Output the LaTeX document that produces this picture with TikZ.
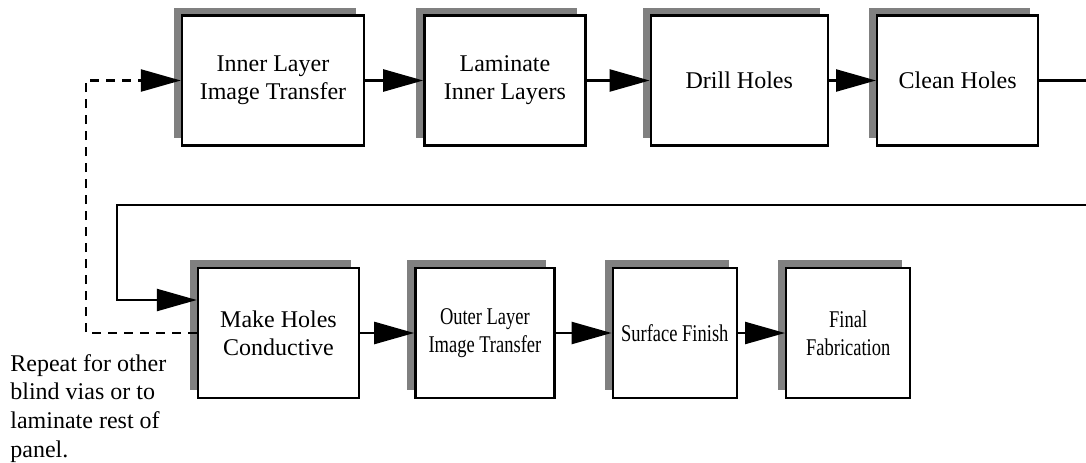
\documentclass[tikz,border=0pt]{standalone}
\usepackage{fontspec}
\setmainfont{Liberation Serif}
\newfontfamily\condensedserif[FakeStretch=0.77]{Liberation Serif}
\usepackage{tikz}
\usetikzlibrary{arrows.meta,positioning,shadows}

\begin{document}
\begin{tikzpicture}[
    x=1pt, y=1pt,
    box/.style={rectangle, draw, fill=white, line width=1.2pt, align=center, minimum height=65pt, font=\rmfamily\fontsize{12}{14}\selectfont, general shadow={fill=black!50, shadow xshift=-4pt, shadow yshift=4pt}},
    narrowbox/.style={box, font=\condensedserif\fontsize{12}{14}\selectfont},
    link/.style={line width=1.2pt},
    arrow/.style={-{Triangle[length=20pt, width=11pt]}, line width=1.2pt},
    loopback/.style={arrow, dash pattern=on 4.5pt off 3.5pt},
    note/.style={align=left, inner sep=0pt, font=\rmfamily\fontsize{12}{14.3}\selectfont}
]
\useasboundingbox (0,0) rectangle (543,231);

% Top row
\node[box, minimum width=91pt] (inner) at (136.5,190.75) {Inner Layer\\Image Transfer};
\node[box, minimum width=80.5pt, right=29pt of inner] (laminate) {Laminate\\Inner Layers};
\node[box, minimum width=88.5pt, right=31.5pt of laminate] (drill) {Drill Holes};
\node[box, minimum width=80.5pt, right=23.5pt of drill] (clean) {Clean Holes};

% Bottom row
\node[box, minimum width=80.5pt] (conductive) at (139.25,64.5) {Make Holes\\Conductive};
\node[narrowbox, minimum width=69.5pt, right=27pt of conductive] (outer) {Outer Layer\\Image Transfer};
\node[narrowbox, minimum width=62pt, right=28pt of outer] (finish) {Surface Finish};
\node[narrowbox, minimum width=62pt, right=23.5pt of finish] (fab) {Final\\Fabrication};

% Note
\node[note, anchor=north west] (note) at (5,54) {Repeat for other\\blind vias or to\\laminate rest of\\panel.};

% Wrap point at the right edge
\coordinate (rim) at (543,128.5);

% Arrows
\draw[arrow] (inner) -- (laminate);
\draw[arrow] (laminate) -- (drill);
\draw[arrow] (drill) -- (clean);
\draw[link] (clean) -- (clean -| rim);
\draw[arrow] (rim) -| ([xshift=-40pt, yshift=16.5pt]conductive.west) -- ([yshift=16.5pt]conductive.west);
\draw[arrow] (conductive) -- (outer);
\draw[arrow] (outer) -- (finish);
\draw[arrow] (finish) -- (fab);
\draw[loopback] (conductive.west) -- ++(-55.5,0) |- (inner.west);

\end{tikzpicture}
\end{document}
